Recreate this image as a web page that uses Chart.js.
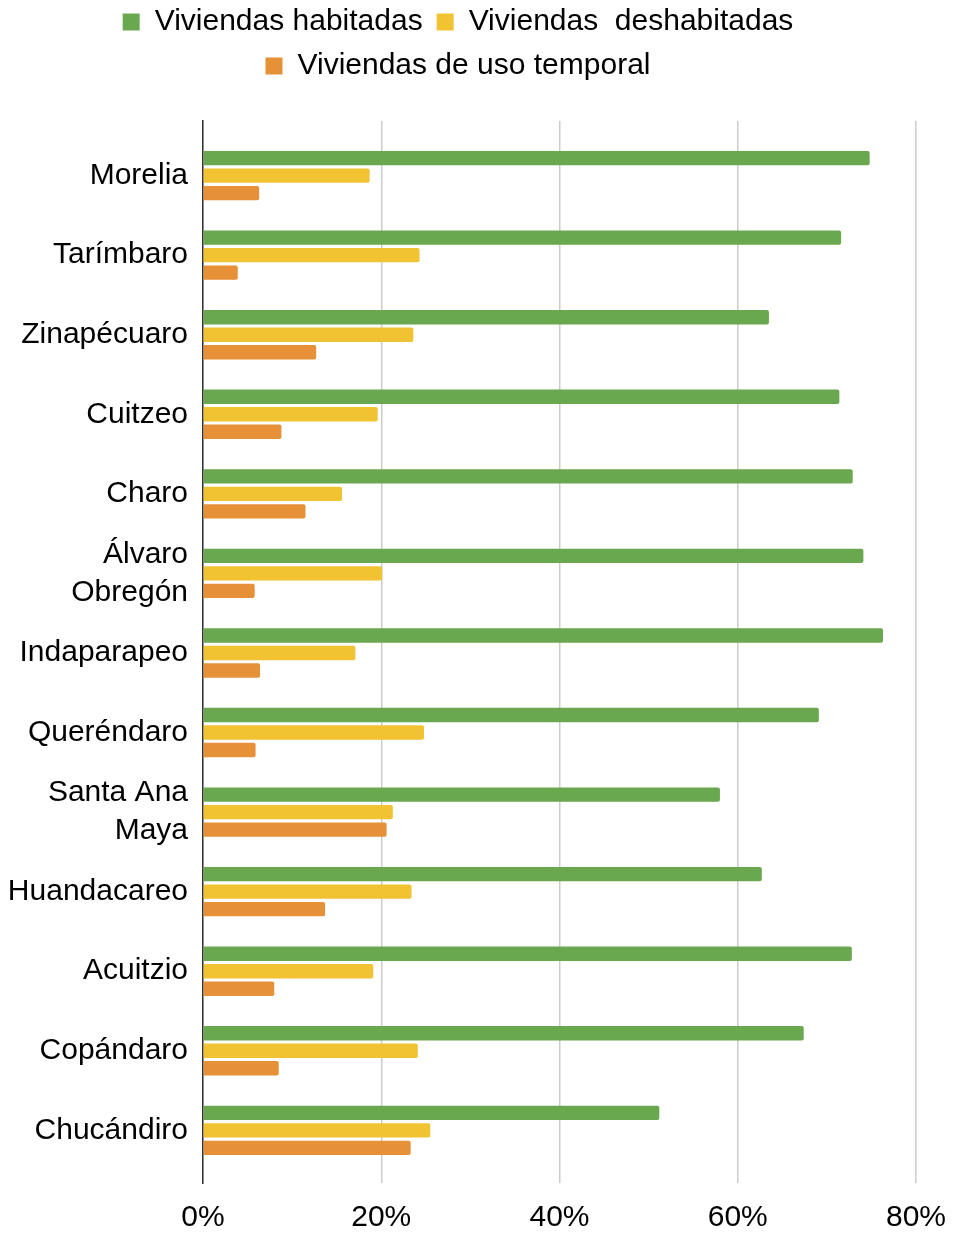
<!DOCTYPE html>
<html>
<head>
<meta charset="utf-8">
<script src="https://cdn.jsdelivr.net/npm/chart.js@4.4.1/dist/chart.umd.min.js"></script>
<style>
  html, body { margin: 0; padding: 0; background: #fff; }
  #wrap { width: 954px; height: 1233px; }
</style>
</head>
<body>
<div id="wrap"><canvas id="chart"></canvas></div>
<script>
// municipios, top to bottom
const municipios = [
  "Morelia", "Tarímbaro", "Zinapécuaro", "Cuitzeo", "Charo", ["Álvaro", "Obregón"],
  "Indaparapeo", "Queréndaro", ["Santa Ana", "Maya"], "Huandacareo", "Acuitzio",
  "Copándaro", "Chucándiro",
]
// percentages
const habitadas    = [74.8, 71.6, 63.5, 71.4, 72.9, 74.1, 76.3, 69.1, 58.0, 62.7, 72.8, 67.4, 51.2]
const deshabitadas = [18.7, 24.3, 23.6, 19.6, 15.6, 20.1, 17.1, 24.8, 21.3, 23.4, 19.1, 24.1, 25.5]
const usoTemporal  = [6.3, 3.9, 12.7, 8.8, 11.5, 5.8, 6.4, 5.9, 20.6, 13.7, 8.0, 8.5, 23.3]
const xTicks = [0, 20, 40, 60, 80]

const FONT = "'Liberation Sans', Arial, sans-serif"
const toPoints = (vals) => vals.map((v, i) => ({ x: v, y: i }))

const series = [
  { label: "Viviendas habitadas", values: habitadas, color: "#6aa84f" },
  { label: "Viviendas  deshabitadas", values: deshabitadas, color: "#f1c232" },
  { label: "Viviendas de uso temporal", values: usoTemporal, color: "#e69138" },
]

// legend is drawn by Chart.js, just leave more room below it
const legendGap = {
  id: "legendGap",
  beforeLayout(chart) {
    const legend = chart.legend
    if (!legend || legend._gapPatched) return
    const fit = legend.fit
    legend.fit = function () {
      fit.call(this)
      this.height += 30
    }
    legend._gapPatched = true
  },
}

new Chart(document.getElementById("chart"), {
  type: "bar",
  data: {
    datasets: series.map(s => ({
      label: s.label,
      data: toPoints(s.values),
      backgroundColor: s.color,
      borderWidth: 0,
      borderRadius: 2,
      barPercentage: 0.82,
      categoryPercentage: 0.66,
    })),
  },
  plugins: [legendGap],
  options: {
    indexAxis: "y",
    responsive: true,
    maintainAspectRatio: false,
    animation: false,
    layout: { padding: { top: -7, right: 38, bottom: 0, left: 0 } },
    plugins: {
      tooltip: { enabled: false },
      legend: {
        position: "top",
        align: "center",
        labels: {
          color: "#000",
          font: { family: FONT, size: 30 },
          boxWidth: 17,
          boxHeight: 17,
          padding: 14,
        },
      },
    },
    scales: {
      x: {
        type: "linear",
        min: 0,
        max: 80,
        afterBuildTicks: (scale) => { scale.ticks = xTicks.map(v => ({ value: v })) },
        afterFit: (scale) => {
          scale.height = 50
          scale.paddingLeft = 0
          scale.paddingRight = 0
        },
        ticks: {
          color: "#000",
          font: { family: FONT, size: 30, lineHeight: 1 },
          padding: 20,
          callback: (v) => v + "%",
        },
        grid: { color: "#cccccc", lineWidth: 1.5, drawTicks: false },
        border: { display: false },
      },
      y: {
        type: "linear",
        reverse: true,
        offset: false,
        min: -0.686,
        max: 12.662,
        afterBuildTicks: (scale) => { scale.ticks = municipios.map((_, i) => ({ value: i })) },
        afterFit: (scale) => {
          scale.width = 203
          scale.paddingTop = 0
          scale.paddingBottom = 0
        },
        ticks: {
          color: "#000",
          font: { family: FONT, size: 30, lineHeight: 1.27 },
          padding: 15,
          autoSkip: false,
          callback: (v) => municipios[v],
        },
        grid: { display: false, drawTicks: false, offset: false },
        border: { display: true, color: "#333", width: 1.5 },
      },
    },
  },
})
</script>
</body>
</html>
